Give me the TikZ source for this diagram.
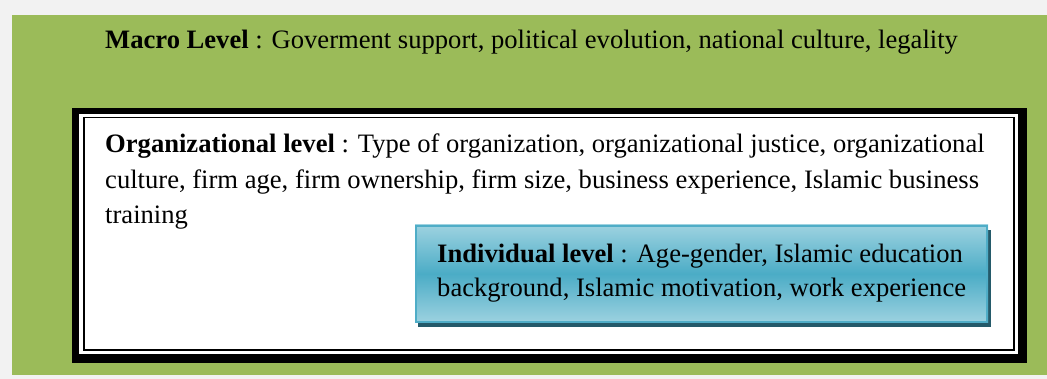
\documentclass[tikz,border=0pt]{standalone}
\usepackage{fontspec}
\setmainfont{Liberation Serif}
\definecolor{pagegray}{HTML}{F2F2F2}
\definecolor{macrogreen}{HTML}{9BBB59}
\definecolor{tealedge}{HTML}{4FADC7}
\definecolor{tealmid}{HTML}{4BACC6}
\definecolor{teallight}{HTML}{9DD2E0}
\definecolor{tealshadow}{HTML}{245A6A}
\tikzset{
  % multi-line nodes are placed by the baseline of their last line
  leveltext/.style={anchor=base west, inner sep=0pt, align=left,
    font=\fontsize{26.6}{35.5}\selectfont},
}
\begin{document}
\begin{tikzpicture}[x=1pt,y=-1pt]
  % page and macro band
  \fill[pagegray] (0,0) rectangle (1047,379);
  \useasboundingbox (0,0) rectangle (1047,379);
  \fill[macrogreen] (12,15) rectangle (1047,375);
  \node[leveltext] (macro) at (105,49)
    {\textbf{Macro Level} : Goverment support, political evolution, national culture, legality};

  % organizational frame: thick black border, white gap, thin rule
  \fill[black] (71.7,107.7) rectangle (1026.7,362.7);
  \fill[white] (79,114.3) rectangle (1018,353.7);
  \draw[black, line width=1.6pt] (83.8,117.5) rectangle (1014.2,350.2);
  \node[leveltext] (org) at (105,224)
    {\textbf{Organizational level} : Type of organization, organizational justice, organizational\\
     culture, firm age, firm ownership, firm size, business experience, Islamic business\\
     training};

  % individual box with drop shadow
  \fill[tealshadow] (418,230) rectangle (990.7,327.3);
  \shade[top color=teallight, bottom color=teallight, middle color=tealmid]
    (415,225) rectangle (988,322.7);
  \draw[tealedge, line width=1.8pt] (415.9,225.9) rectangle (987.1,321.8);
  \node[leveltext, font=\fontsize{26.6}{34.4}\selectfont] (indiv) at (437,296.7)
    {\textbf{Individual level} : Age-gender, Islamic education\\
     background, Islamic motivation, work experience};
\end{tikzpicture}
\end{document}
